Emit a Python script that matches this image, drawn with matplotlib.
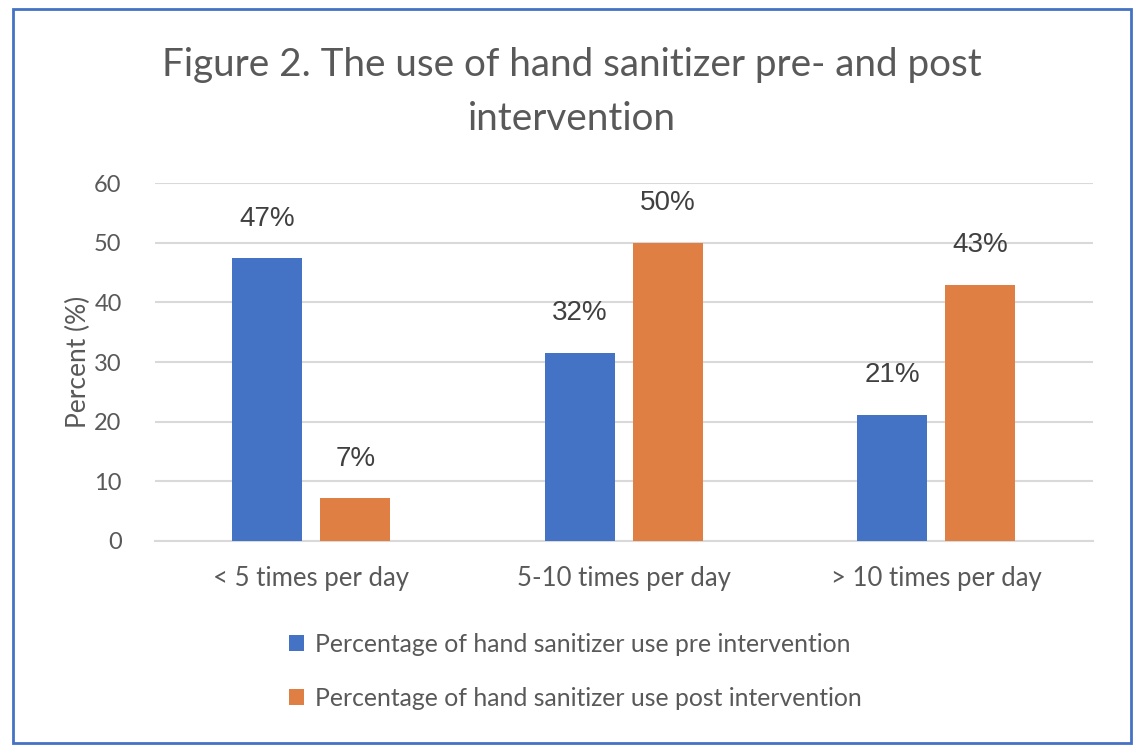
import numpy as np
import matplotlib
matplotlib.use('Agg')
import matplotlib.pyplot as plt
from matplotlib.patches import Rectangle

# Data
categories = ['< 5 times per day', '5-10 times per day', '> 10 times per day']
pre_values = [47.4, 31.6, 21.2]
post_values = [7.2, 50.0, 43.0]
pre_labels = ['47%', '32%', '21%']
post_labels = ['7%', '50%', '43%']
series_names = ['Percentage of hand sanitizer use pre intervention',
                'Percentage of hand sanitizer use post intervention']
yticks = [0, 10, 20, 30, 40, 50, 60]

plt.rcParams['font.family'] = ['Lato', 'DejaVu Sans']

BLUE = '#4472C4'
ORANGE = '#E07F43'
GREY = '#595959'

fig = plt.figure(figsize=(11.44, 7.54), dpi=100)
ax = fig.add_axes([0.1355, 0.2825, 0.8195, 0.4745])

x = np.arange(len(categories))
w = 0.224
off = 0.141
b1 = ax.bar(x - off, pre_values, w, color=BLUE, label=series_names[0], zorder=3)
b2 = ax.bar(x + off, post_values, w, color=ORANGE, label=series_names[1], zorder=3)

for bars, labs in ((b1, pre_labels), (b2, post_labels)):
    for bar, lab in zip(bars, labs):
        ax.text(bar.get_x() + bar.get_width() / 2, bar.get_height() + 6.6, lab,
                ha='center', va='center', fontsize=20, color='#404040',
                family='Liberation Sans')

ax.set_xlim(-0.5, 2.5)
ax.set_ylim(0, 60)
ax.set_yticks(yticks)
ax.yaxis.grid(True, color='#D9D9D9', linewidth=1.5, zorder=0)
ax.set_axisbelow(True)
for s in ['top', 'right', 'left']:
    ax.spines[s].set_visible(False)
ax.spines['bottom'].set_color('#D9D9D9')
ax.spines['bottom'].set_linewidth(1.5)
ax.tick_params(axis='both', length=0, colors=GREY)
ax.tick_params(axis='y', pad=24, labelsize=17)
ax.tick_params(axis='x', pad=18, labelsize=18.5)
ax.set_xticks(x)
ax.set_xticklabels(categories)
ax.set_ylabel('Percent (%)', fontsize=19, color=GREY, labelpad=2)

fig.text(0.5, 0.878, 'Figure 2. The use of hand sanitizer pre- and post\nintervention',
         ha='center', va='center', fontsize=27.8, color=GREY, linespacing=1.65)

fig.legend(handles=[b1, b2], loc='upper left', bbox_to_anchor=(0.233, 0.19),
           ncol=1, frameon=False, fontsize=17.8, labelcolor=GREY,
           handlelength=0.6, handleheight=0.6, handletextpad=0.45,
           labelspacing=1.25)

fig.patches.append(Rectangle((13 / 1144, 1 - 743 / 754), 1118 / 1144, 734 / 754,
                             transform=fig.transFigure, fill=False,
                             edgecolor=BLUE, linewidth=2))

fig.savefig('out.png', dpi=100)
